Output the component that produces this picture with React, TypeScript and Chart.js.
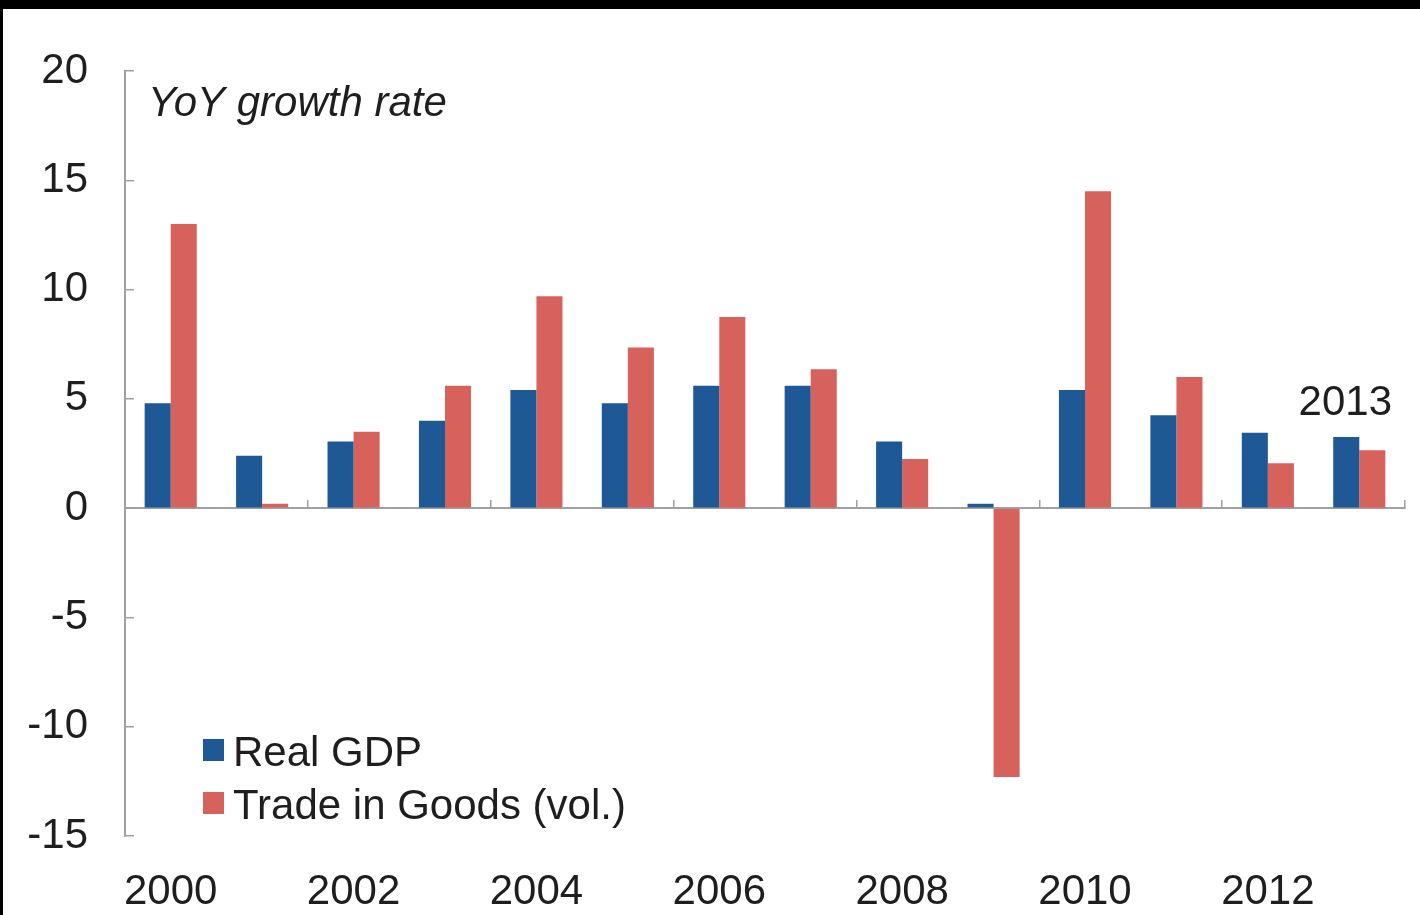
import React, { useEffect, useRef } from "react";
import { Chart, registerables } from "chart.js";

Chart.register(...registerables);

const years = ["2000", "2001", "2002", "2003", "2004", "2005", "2006", "2007", "2008", "2009", "2010", "2011", "2012", "2013"];
const realGdp = [4.8, 2.4, 3.05, 4.0, 5.4, 4.8, 5.6, 5.6, 3.05, 0.2, 5.4, 4.25, 3.45, 3.25];
const tradeInGoods = [13.0, 0.2, 3.5, 5.6, 9.7, 7.35, 8.75, 6.35, 2.25, -12.3, 14.5, 6.0, 2.05, 2.65];
const yTicks = [-15, -10, -5, 0, 5, 10, 15, 20];
const seriesNames = ["Real GDP", "Trade in Goods (vol.)"];
const axisTitle = "YoY growth rate";
const lastYearNote = "2013";

const BLUE = "rgb(31,89,149)";
const RED = "rgb(215,98,91)";
const AXIS = "rgb(160,160,160)";
const TEXT = "#1e1e1e";
const FONT = "'Liberation Sans', Arial, sans-serif";

const overlayPlugin = {
  id: "overlayText",
  afterDraw(chart: any) {
    const ctx = chart.ctx;
    const area = chart.chartArea;
    ctx.save();
    ctx.fillStyle = TEXT;
    // axis title
    ctx.font = `italic 42px ${FONT}`;
    ctx.textAlign = "left";
    ctx.textBaseline = "middle";
    ctx.fillText(axisTitle, area.left + 23, area.top + 33);
    // 2013 note
    ctx.font = `42px ${FONT}`;
    ctx.textAlign = "center";
    const xs = chart.scales.x;
    ctx.fillText(lastYearNote, xs.getPixelForValue(13) - 14, chart.scales.y.getPixelForValue(4.8));
    // legend
    const ds = chart.data.datasets;
    ds.forEach((d: any, i: number) => {
      const cy = 741 + i * 53;
      ctx.fillStyle = d.backgroundColor;
      ctx.fillRect(area.left + 78, cy - 11, 21, 22);
      ctx.fillStyle = TEXT;
      ctx.textAlign = "left";
      ctx.textBaseline = "middle";
      ctx.fillText(d.label, area.left + 108, cy + 4);
    });
    ctx.restore();
  },
};

export default function App() {
  const ref = useRef<HTMLCanvasElement | null>(null);
  useEffect(() => {
    if (!ref.current) return;
    const chart = new Chart(ref.current, {
      type: "bar",
      data: {
        labels: years,
        datasets: [
          { label: seriesNames[0], data: realGdp, backgroundColor: BLUE, xAxisID: "x", yAxisID: "y" },
          { label: seriesNames[1], data: tradeInGoods, backgroundColor: RED, xAxisID: "x", yAxisID: "y" },
        ],
      },
      plugins: [overlayPlugin],
      options: {
        animation: false,
        responsive: true,
        maintainAspectRatio: false,
        layout: { padding: { top: 62, right: 15, left: 0, bottom: 0 } },
        datasets: { bar: { categoryPercentage: 0.57, barPercentage: 1 } },
        plugins: { legend: { display: false }, tooltip: { enabled: false }, title: { display: false } },
        scales: {
          y: {
            position: "left",
            min: -15,
            max: 20,
            afterBuildTicks: (s: any) => {
              s.ticks = yTicks.map((v) => ({ value: v }));
            },
            afterFit: (s: any) => {
              s.width = 122;
              s.paddingTop = 0;
              s.paddingBottom = 0;
            },
            border: { display: true, color: AXIS, width: 2 },
            grid: { drawOnChartArea: false, drawTicks: true, tickLength: -9, tickColor: AXIS, lineWidth: 1.5 },
            ticks: { padding: 46, color: TEXT, font: { family: FONT, size: 42 } },
          },
          x: {
            type: "category",
            position: { y: 0 } as any,
            afterFit: (s: any) => {
              s.height = 0;
            },
            border: { display: true, color: AXIS, width: 2 },
            grid: {
              offset: true,
              drawOnChartArea: false,
              drawTicks: true,
              tickLength: -9,
              lineWidth: 1.5,
              tickColor: (c: any) => (c.index === undefined || c.index % 2 === 0 ? AXIS : "rgba(0,0,0,0)"),
            },
            ticks: { display: false },
          },
          x2: {
            type: "category",
            labels: years,
            position: "bottom",
            offset: true,
            afterFit: (s: any) => {
              s.height = 79;
            },
            border: { display: false },
            grid: { display: false, drawTicks: false },
            ticks: {
              autoSkip: false,
              maxRotation: 0,
              padding: 31,
              color: TEXT,
              font: { family: FONT, size: 42 },
              callback: function (this: any, _v: any, i: number) {
                return i % 2 === 0 ? years[i] : "";
              },
            },
          },
        },
      },
    });
    return () => chart.destroy();
  }, []);
  return (
    <div style={{ position: "fixed", left: 0, top: 0, width: 1420, height: 915, background: "#000" }}>
      <div style={{ position: "absolute", left: 3, top: 9, width: 1417, height: 906, background: "#fff" }}>
        <canvas ref={ref} />
      </div>
    </div>
  );
}
